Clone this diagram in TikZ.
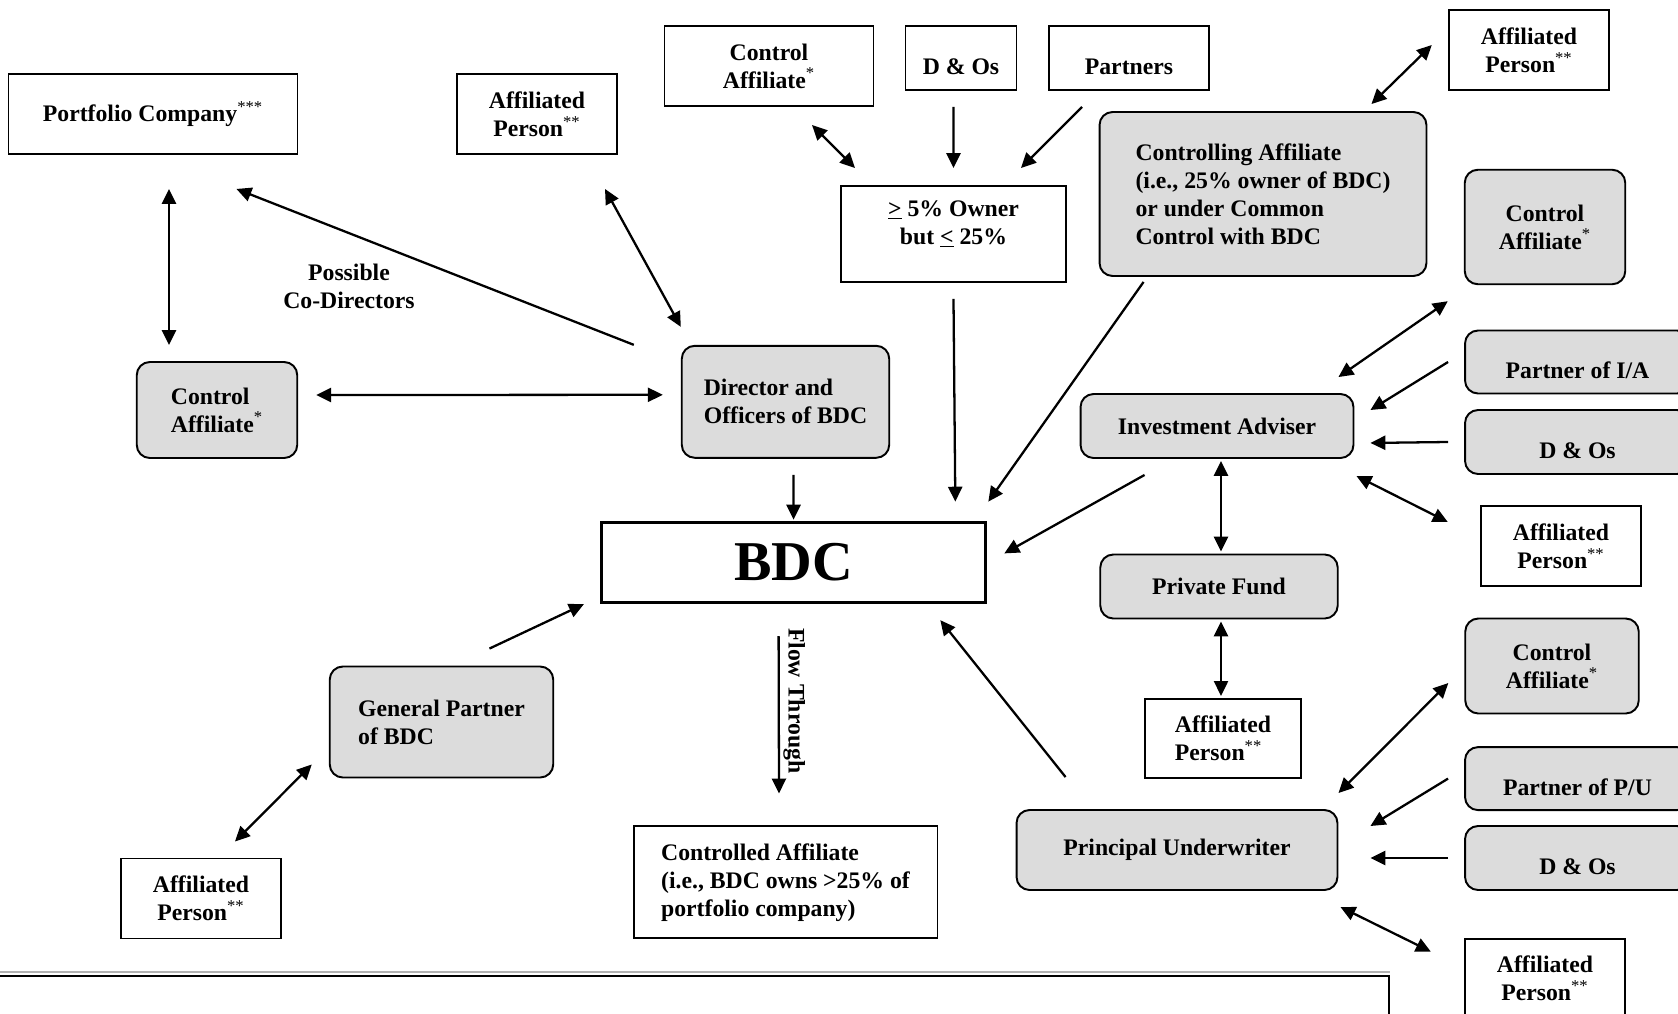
\documentclass[tikz,border=0pt]{standalone}
\usepackage{fontspec}
\setmainfont{Liberation Serif}
\usetikzlibrary{calc,
arrows.meta,
positioning}
\definecolor{boxgray}{RGB}{220,220,220}
\newcommand*{\fnmark}[1]{\textsuperscript{\mdseries #1}}

\begin{document}
\begin{tikzpicture} [x=0.02cm, y=-0.02cm,
    every node/.style={font=\fontsize{13.5}{16}\selectfont\bfseries},
    plain box/.style={rectangle, draw, line width=1.1pt, fill=white,
        align=center, inner sep=2pt},
    soft box/.style={plain box, rounded corners=0.26cm, fill=boxgray},
    low text/.style={text height=19pt},
    arrow line/.style={-{Triangle[length=8.5pt,width=8pt]}, line width=1.3pt},
    twin line/.style={{Triangle[length=8.5pt,width=8pt]}-{Triangle[length=8.5pt,width=8pt]}, line width=1.3pt}
  ]

  \useasboundingbox (0,0) rectangle (1678,1014);

  % top row
  \node [plain box, minimum width=5.78cm, minimum height=1.6cm] (port) at (153,114) {Portfolio Company\fnmark{***}};
  \node [plain box, minimum width=3.21cm, minimum height=1.6cm] (apa) at (537,114) {Affiliated\\Person\fnmark{**}};
  \node [plain box, minimum width=4.18cm, minimum height=1.6cm] (cat) at (769,66) {Control\\Affiliate\fnmark{*}};
  \node [plain box, low text, minimum width=2.22cm, minimum height=1.28cm] (dot) at (961,58) {D \& Os};
  \node [plain box, low text, minimum width=3.21cm, minimum height=1.28cm] (partners) at (1129,58) {Partners};
  \node [plain box, minimum width=3.21cm, minimum height=1.6cm] (aptr) at (1529,50) {Affiliated\\Person\fnmark{**}};

  \node [plain box, minimum width=4.5cm, minimum height=1.92cm,
    label={[align=center, yshift=0.2cm]center:\underline{>} 5\% Owner\\but \underline{<} 25\%}
  ] (own) at (953.5,234) {};

  \node [soft box, align=left, minimum width=6.54cm, minimum height=3.28cm] (ctrl) at (1263,194) {Controlling Affiliate\\(i.e., 25\% owner of BDC)\\or under Common\\Control with BDC};

  % left side
  \node [soft box, align=left, minimum width=3.21cm, minimum height=1.92cm] (cal) at (217,410) {Control\\Affiliate\fnmark{*}};
  \node [align=center] (codir) at (349,286) {Possible\\Co-Directors};
  \node [soft box, align=left, minimum width=4.15cm, minimum height=2.24cm] (dir) at (785.5,401.8) {Director and\\Officers of BDC};

  \node [plain box, line width=2pt, minimum width=7.68cm, minimum height=1.6cm,
    font=\fontsize{32}{38}\selectfont\bfseries] (bdc) at (793.6,562.4) {BDC};

  \node [soft box, align=left, minimum width=4.47cm, minimum height=2.22cm] (gp) at (441.5,722) {General Partner\\of BDC};
  \node [plain box, minimum width=3.21cm, minimum height=1.6cm] (apbl) at (201,898.5) {Affiliated\\Person\fnmark{**}};
  \node [plain box, align=left, minimum width=6.08cm, minimum height=2.24cm] (caff) at (785.5,882.4) {Controlled Affiliate\\(i.e., BDC owns >25\% of\\portfolio company)};

  % investment adviser group
  \node [soft box, minimum width=3.21cm, minimum height=2.29cm] (car1) at (1545,227) {Control\\Affiliate\fnmark{*}};
  \node [soft box, low text, minimum width=4.5cm, minimum height=1.26cm] (pia) at (1577.5,362) {Partner of I/A};
  \node [soft box, low text, minimum width=4.5cm, minimum height=1.28cm] (doia) at (1577.5,442) {D \& Os};
  \node [plain box, minimum width=3.21cm, minimum height=1.6cm] (apia) at (1561,546) {Affiliated\\Person\fnmark{**}};
  \node [soft box, minimum width=5.46cm, minimum height=1.28cm] (ia) at (1217,426) {Investment Adviser};
  \node [soft box, minimum width=4.75cm, minimum height=1.28cm] (pf) at (1219,586.5) {Private Fund};
  \node [plain box, align=left, minimum width=3.12cm, minimum height=1.58cm] (appf) at (1223,738.4) {Affiliated\\Person\fnmark{**}};

  % principal underwriter group
  \node [soft box, minimum width=3.47cm, minimum height=1.9cm] (car2) at (1552,666) {Control\\Affiliate\fnmark{*}};
  \node [soft box, low text, minimum width=4.5cm, minimum height=1.26cm] (ppu) at (1577.5,778.6) {Partner of P/U};
  \node [soft box, low text, minimum width=4.5cm, minimum height=1.28cm] (dopu) at (1577.5,858) {D \& Os};
  \node [soft box, minimum width=6.42cm, minimum height=1.6cm] (pu) at (1177,850) {Principal Underwriter};
  \node [plain box, minimum width=3.21cm, minimum height=1.6cm] (appu) at (1545,978.6) {Affiliated\\Person\fnmark{**}};

  % footnote box, cut by the page
  \node [plain box, minimum width=27.88cm, minimum height=1.28cm] (notes) at (692,1008) {};
  \draw [gray!60, line width=1.2pt] ($(notes.north west)+(0,-3)$) -- ($(notes.north east)+(0,-3)$);

  % connectors
  \draw [twin line] ($(port.south)+(16,34)$) -- ($(cal.north)+(-48,-16)$);
  \draw [arrow line] ($(dir.north west)+(-47,0)$) -- ($(port.south east)+(-62,34)$);
  \draw [twin line] ($(apa.south)+(68,34)$) -- ($(dir.north west)+(0,-18)$);
  \draw [twin line] ($(cal.east)+(18,-15)$) -- ($(dir.west)+(-18,-7)$);
  \draw [arrow line] ($(dir.south)+(8,16)$) -- ($(bdc.north)+(0,-1)$);

  \draw [twin line] ($(cat.south)+(43,18)$) -- ($(own.north west)+(15,-17)$);
  \draw [arrow line] ($(dot.south)+(-7.5,16)$) -- ($(own.north)+(0,-17)$);
  \draw [arrow line] ($(partners.south)+(-47,16)$) -- ($(own.north east)+(-46,-17)$);
  \draw [arrow line] ($(own.south)+(0,16)$) -- ($(bdc.north east)+(-32,-19)$);
  \draw [arrow line] ($(ctrl.south west)+(45,5)$) -- ($(bdc.north east)+(1,-19)$);
  \draw [twin line] ($(aptr.west)+(-16,-5)$) -- ($(ctrl.north east)+(-56,-7)$);

  \draw [arrow line] ($(ia.south west)+(65,16)$) -- ($(bdc.east)+(17,-9)$);
  \draw [arrow line] ($(pu.north west)+(50,-32)$) -- ($(bdc.south east)+(-47,16)$);
  \draw [arrow line] ($(gp.north)+(48,-17)$) -- ($(bdc.south west)+(-16,0)$);
  \draw [twin line] ($(apbl.north)+(34,-16)$) -- ($(gp.south west)+(-17,-14)$);
  \draw [arrow line] ($(bdc.south)+(-15,32)$) -- node [pos=0.41, rotate=-90, anchor=south, inner sep=2pt] (flow) {Flow Through} ($(caff.north)+(-6.5,-32)$);

  \draw [twin line] ($(car1.south west)+(-16,16)$) -- ($(ia.north east)+(-16,-16)$);
  \draw [arrow line] ($(pia.west)+(-16,0)$) -- ($(ia.east)+(16,-16)$);
  \draw [arrow line] ($(doia.west)+(-16,0)$) -- ($(ia.south east)+(16,-16)$);
  \draw [twin line] ($(ia.south east)+(2,17)$) -- ($(apia.west)+(-32,-24)$);
  \draw [twin line] ($(ia.south)+(4,2)$) -- ($(pf.north)+(2,-2)$);
  \draw [twin line] ($(pf.south)+(2,2)$) -- ($(appf.north)+(-2,-2)$);

  \draw [twin line] ($(car2.west)+(-16,17)$) -- ($(pu.north east)+(0,-16)$);
  \draw [arrow line] ($(ppu.west)+(-16,0)$) -- ($(pu.east)+(32,-24)$);
  \draw [arrow line] ($(dopu.west)+(-16,0)$) -- ($(pu.east)+(32,8)$);
  \draw [twin line] ($(pu.south east)+(2,16)$) -- ($(appu.west)+(-33,-27)$);

\end{tikzpicture}
\end{document}
